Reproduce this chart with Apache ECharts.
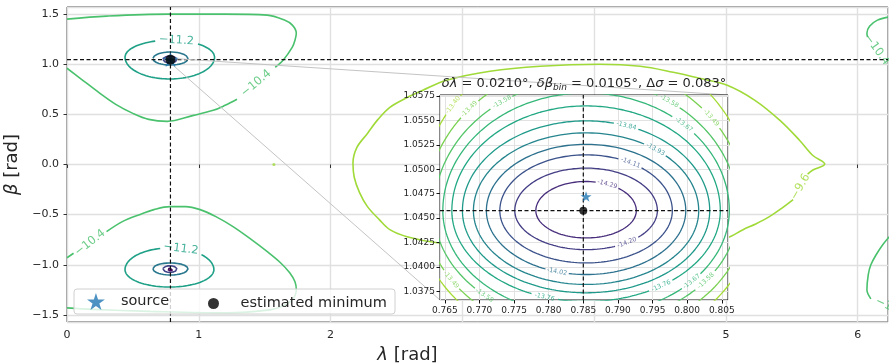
<!DOCTYPE html>
<html>
<head>
<meta charset="utf-8">
<script src="https://cdn.jsdelivr.net/npm/echarts@6.0.0/dist/echarts.min.js"></script>
<style>
html, body { margin: 0; padding: 0; background: #ffffff; }
#chart { width: 889px; height: 363px; }
</style>
</head>
<body>
<div id="chart"></div>
<script>
// ---------------- values ----------------
const lambdaMax = 6.23;
const betaMax = Math.PI / 2;
const hiddenLambdaLabels = [3, 4];

// zoomed window around the source
const zoomLambda = [0.7643, 0.8059];
const zoomBeta = [1.0366, 1.0576];

const sourcePos = [0.785398, 1.047198];
const minimumPos = [0.7850, 1.04575];

// traced contours of the full map, [lambda, beta] paths
const contour96 = [
  [5.51,-0.35],[5.42,-0.44],[5.33,-0.52],[5.23,-0.59],[5.13,-0.65],[5.01,-0.73],[4.70,-0.80],
  [4.40,-0.84],[4.00,-0.86],[3.60,-0.85],[3.20,-0.82],[2.81,-0.78],[2.58,-0.72],[2.45,-0.65],
  [2.37,-0.55],[2.28,-0.42],[2.22,-0.28],[2.18,-0.13],[2.17,0.015],[2.20,0.17],[2.28,0.31],
  [2.36,0.45],[2.45,0.57],[2.57,0.66],[2.70,0.74],[2.88,0.84],[3.21,0.93],[3.59,0.98],[4.04,1.0],
  [4.35,0.98],[4.60,0.92],[4.80,0.86],[5.01,0.79],[5.22,0.64],[5.41,0.44],[5.56,0.24],[5.66,0.09],
  [5.75,0.005],[5.66,-0.055],[5.62,-0.095]
];
const contour96Island = [[1.57, 0.0]];

const contour104UpperInner = [
  [1.29,0.65],[1.20,0.59],[1.11,0.54],[0.96,0.49],[0.76,0.43],[0.62,0.45],[0.50,0.51],[0.37,0.60],
  [0.25,0.71],[0.10,0.86],[0,0.96]
];
const contour104UpperOuter = [
  [0,1.45],[0.3,1.48],[0.76,1.50],[1.2,1.50],[1.52,1.49],[1.65,1.44],[1.71,1.39],[1.74,1.31],
  [1.73,1.24],[1.71,1.17],[1.64,1.04],[1.58,0.97]
];
const contour104UpperWrap = [[6.23,1.47],[6.15,1.44],[6.09,1.38],[6.07,1.31],[6.075,1.27]];
const contour104LowerMain = [
  [0.30,-0.67],[0.42,-0.57],[0.55,-0.50],[0.66,-0.45],[0.78,-0.42],[0.90,-0.42],[1.01,-0.45],
  [1.13,-0.52],[1.26,-0.62],[1.40,-0.75],[1.52,-0.87],[1.62,-0.98],[1.69,-1.08],[1.73,-1.17],
  [1.74,-1.25],[1.71,-1.35],[1.64,-1.41],[1.54,-1.45],[1.21,-1.48],[0.63,-1.465],[0.2,-1.445],[0,-1.43]
];
const contour104LowerEdge = [[0,-0.93],[0.05,-0.885]];
const contour104LowerWrap = [[6.24,-0.72],[6.19,-0.80],[6.14,-0.90],[6.10,-1.00],[6.08,-1.10],[6.07,-1.25],[6.10,-1.34]];

// inline labels of the traced contours: level, lambda, beta, angle
const mapLabelLevel = [-9.6, -10.4, -10.4, -10.4, -10.4];
const mapLabelPos = [[5.565,-0.2225],[1.435,0.81],[6.145,1.145],[0.175,-0.78],[6.26,-1.43]];
const mapLabelAngle = [60, 40, -54, 38, -25];

// closed rings around the two minima of the full map
const ringLevel = [-11.2, -11.2, -12.0, -12.0, -12.8, -12.8, -13.6, -13.6];
const ringLambda = [0.78, 0.7775, 0.785, 0.785, 0.781, 0.781, 0.785, 0.785];
const ringBeta = [1.07, -1.05, 1.055, -1.04, 1.047, -1.043, 1.047, -1.047];
const ringRx = [0.34, 0.3375, 0.133, 0.133, 0.053, 0.053, 0.02, 0.02];
const ringRyTop = [0.17, 0.217, 0.067, 0.058, 0.033, 0.033, 0.012, 0.012];
const ringRyBottom = [0.217, 0.172, 0.063, 0.062, 0.033, 0.033, 0.012, 0.012];
const ringLabels = [[0, 81.5], [1, 75]];   // ring index, position angle (deg)

// rings of the zoomed window
const zoomCenter = [0.7854, 1.04575];
const zoomLevel = [-14.29, -14.20, -14.11, -14.02, -13.93, -13.84, -13.76, -13.67, -13.58, -13.49, -13.40];
const zoomRx = [0.00726, 0.01030, 0.01246, 0.01440, 0.01627, 0.01786, 0.01939, 0.02069, 0.02195, 0.02325, 0.02440];
const zoomRyTop = [0.00299, 0.00436, 0.00572, 0.00680, 0.00797, 0.00920, 0.01073, 0.01206, 0.01339, 0.01513, 0.01758];
const zoomRyBottom = [0.00279, 0.00399, 0.00535, 0.00654, 0.00756, 0.00841, 0.00930, 0.01073, 0.01165, 0.01298, 0.01421];
const zoomLabels = [
  [10,142],[9,136.5],[8,123.6],[8,56.8],[9,39],[7,47],[5,71],[4,52],[2,59],[0,65],
  [1,-55],[3,-107],[6,-108],[6,-56],[7,-42.5],[8,-132],[9,-147],[8,-38]
];

// ---------------- styles ----------------
const FONT = "'DejaVu Sans', 'Liberation Sans', sans-serif";
const INK = '#262626';
const mapColor = {'-9.6': '#a0da39', '-10.4': '#4ac16d', '-11.2': '#1fa187', '-12': '#2a788e', '-12.8': '#414487', '-13.6': '#46085c'};
const zoomColor = ['#472d7b', '#433e85', '#3b528b', '#2c718e', '#25858e', '#1f9a8a', '#22a884', '#35b779', '#54c568', '#7ad151', '#a5db36'];
const STAR = 'path://M0,-10L2.245,-3.09L9.511,-3.09L3.633,1.18L5.878,8.09L0,3.82L-5.878,8.09L-3.633,1.18L-9.511,-3.09L-2.245,-3.09Z';
const MAP_LABEL_SIZE = 11.5;
const ZOOM_LABEL_SIZE = 6.3;

const chart = echarts.init(document.getElementById('chart'));

const baseOption = {
  animation: false,
  backgroundColor: '#ffffff',
  textStyle: {fontFamily: FONT},
  grid: [
    {left: 67, right: 1, top: 7, bottom: 41, outerBoundsMode: 'none', containLabel: false,
      show: true, borderColor: '#3a3a3a', borderWidth: 1, backgroundColor: 'rgba(0,0,0,0)'},
    {left: 440, top: 95, width: 288, height: 205, outerBoundsMode: 'none', containLabel: false,
      show: true, borderColor: '#111111', borderWidth: 1, backgroundColor: '#ffffff', z: 10}
  ],
  xAxis: [
    {
      type: 'value', gridIndex: 0, min: 0, max: lambdaMax, interval: 1,
      axisLine: {show: false},
      axisTick: {show: true, length: 3.5, lineStyle: {color: '#333333'}},
      axisLabel: {color: INK, fontSize: 11, fontFamily: FONT, margin: 8, showMaxLabel: false,
        formatter: v => hiddenLambdaLabels.includes(v) ? '' : String(v)},
      splitLine: {show: true, lineStyle: {color: '#e0e0e0', width: 1.4}},
      name: '{i|λ} [rad]', nameLocation: 'middle', nameGap: 21,
      nameTextStyle: {fontSize: 18, fontFamily: FONT, color: INK, padding: [0, 140, 0, 0],
        rich: {i: {fontStyle: 'italic', fontSize: 18, fontFamily: FONT, color: INK}}}
    },
    {
      type: 'value', gridIndex: 1, min: zoomLambda[0], max: zoomLambda[1],
      minInterval: 0.005, maxInterval: 0.005, splitNumber: 8, z: 11,
      axisLine: {show: false},
      axisTick: {show: true, length: 3.5, lineStyle: {color: '#111111'}},
      axisLabel: {color: INK, fontSize: 9, fontFamily: FONT, margin: 6, showMinLabel: false, showMaxLabel: false,
        formatter: v => v.toFixed(3)},
      splitLine: {show: true, lineStyle: {color: '#e2e2e2', width: 1}}
    }
  ],
  yAxis: [
    {
      type: 'value', gridIndex: 0, min: -betaMax, max: betaMax,
      minInterval: 0.5, maxInterval: 0.5, splitNumber: 6,
      axisLine: {show: false},
      axisTick: {show: true, length: 3.5, lineStyle: {color: '#333333'}},
      axisLabel: {color: INK, fontSize: 11, fontFamily: FONT, margin: 8, showMinLabel: false, showMaxLabel: false,
        formatter: v => (v < 0 ? '\u2212' : '') + Math.abs(v).toFixed(1)},
      splitLine: {show: true, lineStyle: {color: '#e0e0e0', width: 1.4}},
      name: '{i|β} [rad]', nameLocation: 'middle', nameGap: 33, nameRotate: 90,
      nameTextStyle: {fontSize: 18, fontFamily: FONT, color: INK,
        rich: {i: {fontStyle: 'italic', fontSize: 18, fontFamily: FONT, color: INK}}}
    },
    {
      type: 'value', gridIndex: 1, min: zoomBeta[0], max: zoomBeta[1],
      minInterval: 0.0025, maxInterval: 0.0025, splitNumber: 8, z: 11,
      axisLine: {show: false},
      axisTick: {show: true, length: 3.5, lineStyle: {color: '#111111'}},
      axisLabel: {color: INK, fontSize: 9, fontFamily: FONT, margin: 5, showMinLabel: false, showMaxLabel: false,
        formatter: v => v.toFixed(4)},
      splitLine: {show: true, lineStyle: {color: '#e2e2e2', width: 1}}
    }
  ],
  series: []
};
chart.setOption(baseOption);

// ---------------- helpers ----------------
const toPx = (g, p) => chart.convertToPixel({gridIndex: g}, p);

function textWidth(text, size) {
  const ctx = textWidth.ctx || (textWidth.ctx = document.createElement('canvas').getContext('2d'));
  ctx.font = size + 'px ' + FONT;
  return ctx.measureText(text).width;
}

function ringPoint(cx, cy, rx, ryT, ryB, deg) {
  const t = deg * Math.PI / 180, s = Math.sin(t);
  return [cx + rx * Math.cos(t), cy + (s >= 0 ? ryT : ryB) * s];
}

function tangentAngle(g, f, deg) {
  const a = toPx(g, f(deg - 1)), b = toPx(g, f(deg + 1));
  let ang = Math.atan2(-(b[1] - a[1]), b[0] - a[0]) * 180 / Math.PI;
  if (ang > 90) ang -= 180;
  if (ang < -90) ang += 180;
  return ang;
}

// splits a closed ring into the pieces left visible around its inline labels
function ringPieces(g, f, cuts) {
  const n = 360, pts = [], keep = [];
  for (let k = 0; k < n; k++) {
    const p = f(-180 + k);
    const q = toPx(g, p);
    pts.push(p);
    keep.push(cuts.every(c => Math.hypot(q[0] - c.px[0], q[1] - c.px[1]) > c.r));
  }
  if (keep.every(Boolean)) return [pts.concat([pts[0]])];
  const start = keep.indexOf(false);
  const pieces = [];
  let cur = [];
  for (let k = 1; k <= n; k++) {
    const i = (start + k) % n;
    if (keep[i]) cur.push(pts[i]);
    else { if (cur.length > 1) pieces.push(cur); cur = []; }
  }
  if (cur.length > 1) pieces.push(cur);
  return pieces;
}

function lineSeries(g, data, color, width, z, smooth) {
  return {
    type: 'line', xAxisIndex: g, yAxisIndex: g, data, symbol: 'none', showSymbol: false,
    smooth: smooth || false, silent: true, z,
    lineStyle: {color, width}
  };
}

function labelSeries(g, items, size, z) {
  return {
    type: 'scatter', xAxisIndex: g, yAxisIndex: g, symbolSize: 1, clip: false, silent: true, z,
    itemStyle: {color: 'rgba(0,0,0,0)'},
    data: items.map(it => ({
      value: it.pos,
      label: {show: true, position: 'inside', formatter: it.text, rotate: it.rot, color: it.color,
        fontSize: size, fontFamily: FONT}
    }))
  };
}

const fmtMap = v => '\u2212' + Math.abs(v).toFixed(1);
const series = [];

// ---------------- full map ----------------
const c96 = mapColor['-9.6'], c104 = mapColor['-10.4'];
series.push(lineSeries(0, contour96, c96, 1.6, 2, 0.35));
[contour104UpperInner, contour104UpperOuter, contour104UpperWrap, contour104LowerMain, contour104LowerEdge, contour104LowerWrap]
  .forEach(p => series.push(lineSeries(0, p, c104, 1.6, 2, 0.35)));
series.push({type: 'scatter', xAxisIndex: 0, yAxisIndex: 0, data: contour96Island, symbolSize: 3,
  itemStyle: {color: c96}, silent: true, z: 2});

const mapLabelItems = mapLabelLevel.map((lv, i) => ({
  pos: mapLabelPos[i], rot: mapLabelAngle[i], text: fmtMap(lv), color: mapColor[String(lv)]
}));

ringLevel.forEach((lv, i) => {
  const f = d => ringPoint(ringLambda[i], ringBeta[i], ringRx[i], ringRyTop[i], ringRyBottom[i], d);
  const cuts = [];
  ringLabels.filter(l => l[0] === i).forEach(l => {
    const pos = f(l[1]);
    const text = fmtMap(lv);
    cuts.push({px: toPx(0, pos), r: textWidth(text, MAP_LABEL_SIZE) / 2 + 3});
    mapLabelItems.push({pos, rot: tangentAngle(0, f, l[1]), text, color: mapColor[String(lv)]});
  });
  ringPieces(0, f, cuts).forEach(p => series.push(lineSeries(0, p, mapColor[String(lv)], 1.6, 2)));
});
series.push(labelSeries(0, mapLabelItems, MAP_LABEL_SIZE, 3));

// zoom window outline and estimate cross-hair
const zl = zoomLambda, zb = zoomBeta;
series.push(lineSeries(0, [[zl[0], zb[0]], [zl[1], zb[0]], [zl[1], zb[1]], [zl[0], zb[1]], [zl[0], zb[0]]], '#b0b0b0', 1, 4));
const dash = (g, data) => {
  const s = lineSeries(g, data, '#111111', 1.2, g === 0 ? 4 : 13);
  s.lineStyle.type = [4, 2.5];
  return s;
};
series.push(dash(0, [[minimumPos[0], -betaMax], [minimumPos[0], betaMax]]));
series.push(dash(0, [[0, minimumPos[1]], [lambdaMax, minimumPos[1]]]));

// markers
const markers = (g, starSize, dotSize, z) => [
  {type: 'scatter', name: 'source', xAxisIndex: g, yAxisIndex: g, data: [sourcePos], symbol: STAR,
    symbolSize: starSize, symbolKeepAspect: true, itemStyle: {color: '#1f77b4'}, silent: true, z},
  {type: 'scatter', name: 'estimated minimum', xAxisIndex: g, yAxisIndex: g, data: [minimumPos], symbol: 'circle',
    symbolSize: dotSize, itemStyle: {color: '#000000'}, silent: true, z: z + 1}
];
series.push(...markers(0, 16, 10, 7));

// ---------------- zoomed window ----------------
const zoomLabelItems = [];
zoomLevel.forEach((lv, i) => {
  const f = d => ringPoint(zoomCenter[0], zoomCenter[1], zoomRx[i], zoomRyTop[i], zoomRyBottom[i], d);
  const text = lv.toFixed(2);
  const cuts = [];
  zoomLabels.filter(l => l[0] === i).forEach(l => {
    const pos = f(l[1]);
    cuts.push({px: toPx(1, pos), r: textWidth(text, ZOOM_LABEL_SIZE) / 2 + 1.5});
    zoomLabelItems.push({pos, rot: tangentAngle(1, f, l[1]), text, color: zoomColor[i]});
  });
  ringPieces(1, f, cuts).forEach(p => series.push(lineSeries(1, p, zoomColor[i], 1.3, 12)));
});
series.push(labelSeries(1, zoomLabelItems, ZOOM_LABEL_SIZE, 13));
series.push(dash(1, [[minimumPos[0], zb[0]], [minimumPos[0], zb[1]]]));
series.push(dash(1, [[zl[0], minimumPos[1]], [zl[1], minimumPos[1]]]));
series.push(...markers(1, 11, 8, 14));

// connectors from the zoom window to the inset frame
const a0 = toPx(0, [zl[1], zb[1]]), a1 = toPx(1, [zl[1], zb[1]]);
const b0 = toPx(0, [zl[0], zb[0]]), b1 = toPx(1, [zl[0], zb[0]]);
const insetTopLeft = toPx(1, [zl[0], zb[1]]), insetTopRight = toPx(1, [zl[1], zb[1]]);

const legendText = {fontSize: 14.5, fontFamily: FONT, color: INK};

chart.setOption({
  series,
  legend: [
    {data: ['source'], left: 87, top: 293, padding: 0, itemWidth: 40, itemHeight: 17,
      textStyle: legendText, selectedMode: false, z: 20},
    {data: ['estimated minimum'], left: 208, top: 296, padding: 0, itemWidth: 44, itemHeight: 11,
      textStyle: legendText, selectedMode: false, z: 20}
  ],
  graphic: {
    elements: [
      {type: 'line', z: 6, silent: true, shape: {x1: a0[0], y1: a0[1], x2: a1[0], y2: a1[1]},
        style: {stroke: '#c4c4c4', lineWidth: 1}},
      {type: 'line', z: 6, silent: true, shape: {x1: b0[0], y1: b0[1], x2: b1[0], y2: b1[1]},
        style: {stroke: '#c4c4c4', lineWidth: 1}},
      {type: 'text', z: 16, silent: true,
        x: (insetTopLeft[0] + insetTopRight[0]) / 2, y: insetTopLeft[1] - 3,
        style: {
          text: '{i|δλ} = 0.0210°, {i|δβ}{s|bin} = 0.0105°, Δ{i|σ} = 0.083°',
          fontSize: 13, fontFamily: FONT, fill: INK, align: 'center', verticalAlign: 'bottom', lineHeight: 16,
          rich: {
            i: {fontStyle: 'italic', fontSize: 13, fontFamily: FONT, fill: INK, lineHeight: 16},
            s: {fontStyle: 'italic', fontSize: 9, fontFamily: FONT, fill: INK, lineHeight: 11, verticalAlign: 'bottom'}
          }
        }},
      {type: 'rect', z: 19, silent: true, shape: {x: 74, y: 289, width: 321, height: 25, r: 3},
        style: {fill: 'rgba(255,255,255,0.8)', stroke: '#d0d0d0', lineWidth: 1}}
    ]
  }
});
</script>
</body>
</html>
